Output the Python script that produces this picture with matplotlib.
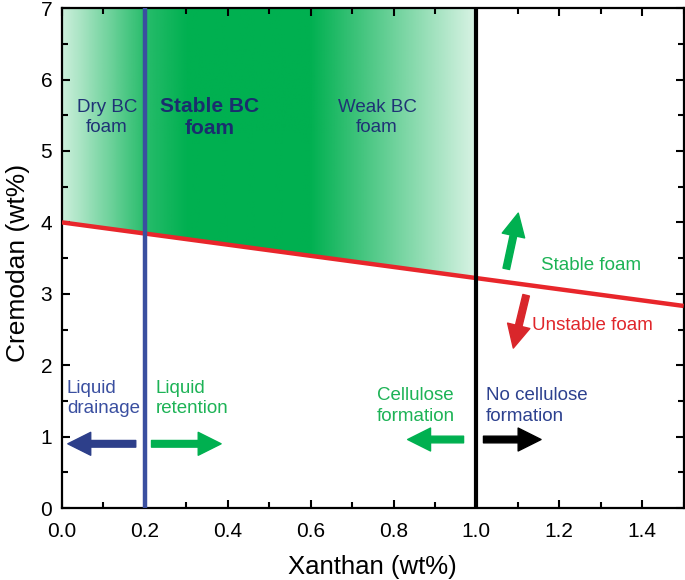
import numpy as np
import matplotlib.pyplot as plt
from matplotlib.colors import to_rgb
from matplotlib.patches import Polygon
from matplotlib.ticker import MultipleLocator

plt.rcParams["font.family"] = ["Liberation Sans", "DejaVu Sans"]

# boundary lines
foam_line_x = [0.0, 1.5]
foam_line_y = [4.0, 2.83]
drainage_x = 0.2
cellulose_x = 1.0

# region labels: (text, x, y, colour, weight, align)
labels = [
    ("Dry BC\nfoam", 0.108, 5.47, "#1f3275", "normal", "center"),
    ("Stable BC\nfoam", 0.356, 5.47, "#1a2d6e", "bold", "center"),
    ("Weak BC\nfoam", 0.76, 5.47, "#1f3275", "normal", "center"),
    ("Stable foam", 1.276, 3.40, "#1db356", "normal", "center"),
    ("Unstable foam", 1.28, 2.55, "#e0262b", "normal", "center"),
    ("Liquid\ndrainage", 0.012, 1.53, "#3a4fa0", "normal", "left"),
    ("Liquid\nretention", 0.226, 1.53, "#1db356", "normal", "left"),
    ("Cellulose\nformation", 0.853, 1.43, "#1db356", "normal", "center"),
    ("No cellulose\nformation", 1.022, 1.43, "#2d418f", "normal", "left"),
]

# arrows: (x_start, y_start, x_end, y_end, colour)
arrows = [
    (1.072, 3.35, 1.101, 4.13, "#00b050"),
    (1.120, 2.98, 1.089, 2.24, "#d9262b"),
    (0.178, 0.90, 0.014, 0.90, "#2d3f8a"),
    (0.216, 0.90, 0.384, 0.90, "#00b050"),
    (0.969, 0.96, 0.834, 0.96, "#00b050"),
    (1.017, 0.96, 1.156, 0.96, "#000000"),
]

fig = plt.figure(figsize=(6.85, 5.8), dpi=100)
ax = fig.add_axes([0.0905, 0.124, 0.9075, 0.862])

# green gradient region above the foam line, left of cellulose line
xs = np.linspace(0, 1.0, 400)
alpha = np.interp(xs, [0.0, 0.2, 0.3, 0.6, 1.0], [0.2, 0.85, 1.0, 1.0, 0.15])
green = np.array(to_rgb("#00b050"))
img = np.ones((2, len(xs), 4))
img[..., :3] = green
img[..., 3] = alpha
im = ax.imshow(img, extent=[0, 1.0, 0, 7], aspect="auto", origin="lower", zorder=0)
y_at_1 = np.interp(cellulose_x, foam_line_x, foam_line_y)
clip = Polygon([[0, foam_line_y[0]], [cellulose_x, y_at_1], [cellulose_x, 7], [0, 7]],
               closed=True, transform=ax.transData, facecolor="none", edgecolor="none")
ax.add_patch(clip)
im.set_clip_path(clip)

ax.plot(foam_line_x, foam_line_y, color="#e8262b", lw=3.2, zorder=3, solid_capstyle="butt")
ax.axvline(drainage_x, color="#3a4fa0", lw=3.2, zorder=3)
ax.axvline(cellulose_x, color="#000000", lw=3.0, zorder=3)

for text, x, y, c, w, ha in labels:
    ax.text(x, y, text, color=c, fontsize=15 if w == "bold" else 13.5, fontweight=w,
            ha=ha, va="center", linespacing=1.25, zorder=4)

for x0, y0, x1, y1, c in arrows:
    ax.annotate("", xy=(x1, y1), xytext=(x0, y0),
                arrowprops=dict(arrowstyle="simple,head_length=1.1,head_width=1.1,tail_width=0.32",
                                color=c, mutation_scale=15, shrinkA=0, shrinkB=0), zorder=4)

ax.set_xlim(0, 1.5)
ax.set_ylim(0, 7)
ax.xaxis.set_major_locator(MultipleLocator(0.2))
ax.xaxis.set_minor_locator(MultipleLocator(0.1))
ax.yaxis.set_major_locator(MultipleLocator(1))
ax.yaxis.set_minor_locator(MultipleLocator(0.5))
ax.xaxis.set_major_formatter(plt.FuncFormatter(lambda v, p: f"{v:.1f}"))
ax.tick_params(which="both", direction="in", top=True, right=True, width=1.5, labelsize=15)
ax.tick_params(which="major", length=6)
ax.tick_params(which="minor", length=4)
ax.tick_params(axis="x", pad=10)
ax.tick_params(axis="y", pad=7)
for s in ax.spines.values():
    s.set_linewidth(1.6)

ax.set_xlabel("Xanthan (wt%)", fontsize=18.5, labelpad=10)
ax.set_ylabel("Cremodan (wt%)", fontsize=19)
ax.yaxis.set_label_coords(-0.052, 0.49)

fig.savefig("out.png", dpi=100)
